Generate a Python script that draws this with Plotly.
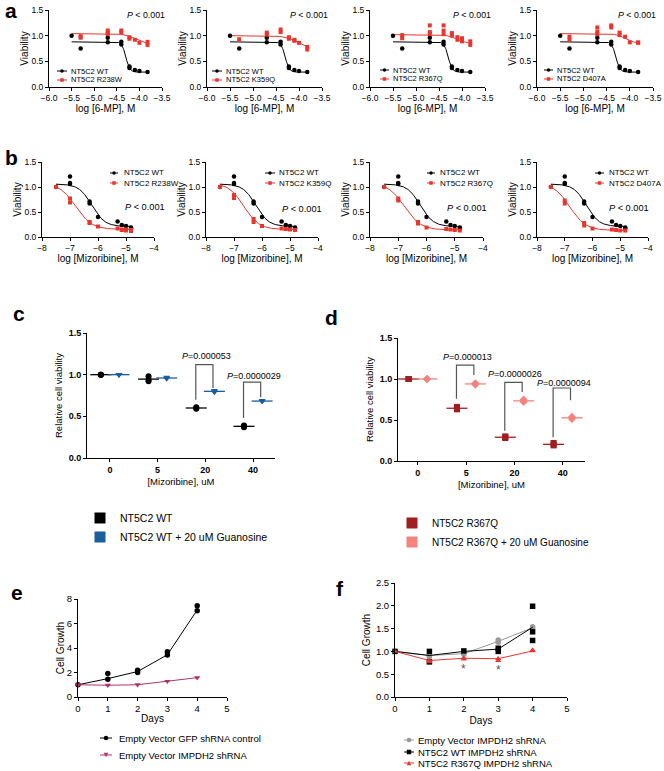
import numpy as np
import plotly.graph_objects as go

W, H = 664, 771
FONT = "Liberation Sans, Arial, Helvetica, sans-serif"

# ---------------- data ----------------
# panel a: viability vs log[6-MP]
a_logconc = [-5.5, -5.3, -4.7, -4.4, -4.22, -4.1, -4.0, -3.82]
a_wt = [[1.00], [0.75], [0.96, 0.87], [0.88, 0.83], [0.40, 0.37], [0.33], [0.31], [0.29]]
a_r238w = [[], [0.99, 0.96], [1.10, 1.06, 1.03], [1.10, 1.06], [0.97, 0.94], [0.92], [0.86], [0.88, 0.82]]
a_k359q = [[], [0.93], [1.06, 1.02], [1.12, 1.07], [0.97, 0.94], [0.92, 0.90], [0.86], [0.78, 0.73]]
a_r367q = [[], [1.01, 0.95], [1.20, 1.07, 1.03], [1.20, 1.10, 1.03], [1.05, 1.00], [0.97, 0.92], [0.95, 0.89], [0.89, 0.82]]
a_d407a = [[], [0.98, 0.92], [1.16, 1.08, 1.03], [1.20, 1.16], [1.06, 1.01], [0.98], [0.87], [0.87, 0.86]]
# fitted 4-parameter curves: top, bottom, logEC50, hill slope
a_fit_wt = [0.88, 0.29, -4.30, 10.0]
a_fit_r238w = [1.04, 0.85, -4.12, 4.0]
a_fit_k359q = [1.00, 0.72, -4.00, 3.0]
a_fit_r367q = [1.02, 0.84, -4.10, 4.0]
a_fit_d407a = [1.04, 0.86, -4.12, 5.0]
a_names = ["NT5C2 R238W", "NT5C2 K359Q", "NT5C2 R367Q", "NT5C2 D407A"]

# panel b: viability vs log[Mizoribine]
b_logconc = [-7.5, -7.0, -6.3, -6.0, -5.3, -5.15, -5.0, -4.82]
b_wt = [[1.00], [1.21, 1.08, 1.06], [0.71, 0.67], [0.40], [0.31], [0.24], [0.22], [0.19, 0.17]]
b_r238w = [[1.00], [0.77, 0.69], [0.30, 0.28], [0.21], [0.17], [0.15, 0.14], [0.15, 0.13], [0.14, 0.12]]
b_k359q = [[1.00], [0.84, 0.78], [0.36, 0.30], [0.22], [0.17], [0.16], [0.15], [0.14]]
b_r367q = [[1.00], [0.77, 0.73], [0.30, 0.27], [0.19], [0.16], [0.15], [0.14], [0.13]]
b_d407a = [[1.00], [0.73, 0.67], [0.28, 0.23], [0.17], [0.15], [0.14], [0.13], [0.13]]
b_fit_wt = [1.06, 0.21, -6.22, 1.9]
b_fit_r238w = [1.08, 0.15, -6.80, 1.5]
b_fit_k359q = [1.08, 0.15, -6.65, 1.6]
b_fit_r367q = [1.08, 0.14, -6.78, 1.5]
b_fit_d407a = [1.08, 0.13, -6.82, 1.5]
b_names = ["NT5C2 R238W", "NT5C2 K359Q", "NT5C2 R367Q", "NT5C2 D407A"]

p_text = "<i>P</i> &lt; 0.001"

# panel c / d: relative viability by mizoribine dose
cd_dose_labels = ["0", "5", "20", "40"]
c_wt = [[1.00, 1.00, 1.00], [0.98, 0.94, 0.92], [0.61, 0.60, 0.59], [0.39, 0.38, 0.37]]
c_wt_guan = [[1.00, 1.00, 1.00], [0.97, 0.96, 0.95], [0.81, 0.80, 0.79], [0.69, 0.68, 0.68]]
c_names = ["NT5C2 WT", "NT5C2 WT + 20 uM Guanosine"]
c_p_labels = ["0.000053", "0.0000029"]
c_p_groups = [2, 3]
c_bracket_top = [1.12, 0.91]
c_bracket_left_end = [0.70, 0.48]
c_bracket_right_end = [0.84, 0.73]
c_label_y = [1.22, 0.99]

d_r367q = [[1.00, 1.00, 1.00], [0.66, 0.64, 0.63], [0.30, 0.29, 0.28], [0.22, 0.20, 0.19]]
d_r367q_guan = [[1.00, 1.00, 1.00], [0.95, 0.94, 0.93], [0.75, 0.73, 0.72], [0.54, 0.53, 0.51]]
d_names = ["NT5C2 R367Q", "NT5C2 R367Q + 20 uM Guanosine"]
d_p_labels = ["0.000013", "0.0000026", "0.0000094"]
d_p_groups = [1, 2, 3]
d_bracket_top = [1.17, 0.96, 0.89]
d_bracket_left_end = [0.76, 0.37, 0.29]
d_bracket_right_end = [1.05, 0.84, 0.74]
d_label_y = [1.27, 1.06, 0.95]

# panel e: cell growth
e_days = [0, 1, 2, 3, 4]
e_gfp = [[1.0], [1.91, 1.45], [2.19, 2.00], [3.69, 3.42], [7.45, 7.05]]
e_gfp_line = [1.0, 1.50, 2.08, 3.45, 7.10]
e_impdh2 = [[1.0], [0.96], [1.00], [1.28], [1.58]]
e_impdh2_line = [1.0, 0.96, 1.00, 1.28, 1.58]
e_names = ["Empty Vector GFP shRNA control", "Empty Vector IMPDH2 shRNA"]

# panel f: cell growth
f_days = [0, 1, 2, 3, 4]
f_ev = [[1.0], [0.91, 0.88], [0.97, 0.94], [1.25, 1.20], [1.54, 1.50]]
f_ev_line = [1.0, 0.91, 0.95, 1.22, 1.52]
f_wt = [[1.0], [1.00, 0.77], [1.01], [1.07, 1.00], [1.99, 1.43, 1.24]]
f_wt_line = [1.0, 0.91, 1.00, 1.05, 1.53]
f_r367q = [[1.0], [0.80, 0.77], [0.85, 0.83], [0.84, 0.80], [1.01, 1.03]]
f_r367q_line = [1.0, 0.80, 0.85, 0.84, 1.01]
f_names = ["Empty Vector IMPDH2 shRNA", "NT5C2 WT IMPDH2 shRNA", "NT5C2 R367Q IMPDH2 shRNA"]
f_star_days = [2, 3]
f_star_y = [0.61, 0.59]

# ---------------- styles ----------------
BLACK = "#000000"
RED = "#E8362F"
BLUE = "#1B5E9E"
DARKRED = "#A11D21"
LIGHTRED = "#F3837D"
MAGENTA = "#B1316B"
GRAY = "#999999"
OFF = 0.19


def fourpl(x, p):
    top, bottom, c, h = p
    return bottom + (top - bottom) / (1.0 + 10.0 ** ((x - c) * h))


def expand(xs, reps, off=0.0):
    X, Y = [], []
    for x, r in zip(xs, reps):
        for v in r:
            X.append(x + off)
            Y.append(v)
    return X, Y


def px_x(p):
    return p / W


def px_y(p):
    return 1 - p / H


fig = go.Figure()
layout = dict(template="none", width=W, height=H, margin=dict(l=0, r=0, t=0, b=0, pad=0),
              paper_bgcolor="white", plot_bgcolor="white", showlegend=True,
              font=dict(family=FONT, color="black"))
shapes, annotations = [], []

base = dict(showline=True, linecolor="black", linewidth=1, ticks="outside", ticklen=3,
            tickwidth=1, tickcolor="black", showgrid=False, zeroline=False, fixedrange=True,
            automargin=False)


def sfx(i):
    return "" if i == 1 else str(i)


def make_axes(i, xdom, ydom, xcfg, ycfg):
    s = sfx(i)
    layout["xaxis" + s] = {**base, "domain": [px_x(xdom[0]), px_x(xdom[1])], "anchor": "y" + s, **xcfg}
    layout["yaxis" + s] = {**base, "domain": [px_y(ydom[1]), px_y(ydom[0])], "anchor": "x" + s, **ycfg}


def legend_entry(x0, x1, tx, y, color, symbol, msize, text, fsize, lw=1.0):
    shapes.append(dict(type="line", xref="paper", yref="paper", x0=px_x(x0), x1=px_x(x1),
                       y0=px_y(y), y1=px_y(y), line=dict(color=color, width=lw)))
    cx = (x0 + x1) / 2.0
    r = msize / 2.0
    if symbol == "circle":
        shapes.append(dict(type="circle", xref="paper", yref="paper", x0=px_x(cx - r), x1=px_x(cx + r),
                           y0=px_y(y + r), y1=px_y(y - r), fillcolor=color, line=dict(width=0)))
    elif symbol == "square":
        shapes.append(dict(type="rect", xref="paper", yref="paper", x0=px_x(cx - r), x1=px_x(cx + r),
                           y0=px_y(y + r), y1=px_y(y - r), fillcolor=color, line=dict(width=0)))
    elif symbol == "triangle-down":
        path = "M{},{} L{},{} L{},{} Z".format(px_x(cx - r), px_y(y - r), px_x(cx + r), px_y(y - r),
                                              px_x(cx), px_y(y + r))
        shapes.append(dict(type="path", xref="paper", yref="paper", path=path, fillcolor=color, line=dict(width=0)))
    elif symbol == "triangle-up":
        path = "M{},{} L{},{} L{},{} Z".format(px_x(cx - r), px_y(y + r), px_x(cx + r), px_y(y + r),
                                              px_x(cx), px_y(y - r))
        shapes.append(dict(type="path", xref="paper", yref="paper", path=path, fillcolor=color, line=dict(width=0)))
    annotations.append(dict(x=px_x(tx), y=px_y(y), xref="paper", yref="paper", text=text, showarrow=False,
                            xanchor="left", yanchor="middle", font=dict(size=fsize, color="black", family=FONT)))


def paper_text(x, y, text, size, xanchor="center", bold=False):
    annotations.append(dict(x=px_x(x), y=px_y(y), xref="paper", yref="paper",
                            text=("<b>%s</b>" % text) if bold else text, showarrow=False,
                            xanchor=xanchor, yanchor="middle", font=dict(size=size, color="black", family=FONT)))


# ---------------- panel a ----------------
a_xdoms = [(49, 162), (207, 322), (370, 485), (537, 653)]
a_sets = [a_r238w, a_k359q, a_r367q, a_d407a]
a_fits = [a_fit_r238w, a_fit_k359q, a_fit_r367q, a_fit_d407a]
a_leg = [(57, 67, 69, 71), (212, 222, 224, 71), (380, 389, 391, 70), (544, 553, 555, 70)]
a_p_right = [167, 330, 493, 658]
a_curve_x = np.linspace(min(a_logconc), max(a_logconc), 300)
tick_small = dict(size=8.5, family=FONT, color="black")
title10 = dict(size=10, family=FONT, color="black")
for k in range(4):
    i = k + 1
    s = sfx(i)
    make_axes(i, a_xdoms[k], (10, 87),
              dict(range=[-6, -3.5], dtick=0.5, tick0=-6, tickformat=".1f", tickfont=tick_small,
                   title=dict(text="log [6-MP], M", font=title10, standoff=0)),
              dict(range=[0, 1.5], dtick=0.5, tick0=0, tickformat=".1f", tickfont=tick_small,
                   title=dict(text="Viability", font=title10, standoff=0)))
    fig.add_trace(go.Scatter(x=a_curve_x, y=fourpl(a_curve_x, a_fit_wt), mode="lines",
                             line=dict(color=BLACK, width=1), xaxis="x" + s, yaxis="y" + s, showlegend=False,
                             name="NT5C2 WT fit"))
    fig.add_trace(go.Scatter(x=a_curve_x, y=fourpl(a_curve_x, a_fits[k]), mode="lines",
                             line=dict(color=RED, width=1), xaxis="x" + s, yaxis="y" + s, showlegend=False,
                             name=a_names[k] + " fit"))
    X, Y = expand(a_logconc, a_wt)
    fig.add_trace(go.Scatter(x=X, y=Y, mode="markers", marker=dict(color=BLACK, size=4.5, symbol="circle"),
                             xaxis="x" + s, yaxis="y" + s, showlegend=False, name="NT5C2 WT", cliponaxis=False))
    X, Y = expand(a_logconc, a_sets[k])
    fig.add_trace(go.Scatter(x=X, y=Y, mode="markers", marker=dict(color=RED, size=4, symbol="square"),
                             xaxis="x" + s, yaxis="y" + s, showlegend=False, name=a_names[k], cliponaxis=False))
    lx0, lx1, tx, ly = a_leg[k]
    legend_entry(lx0, lx1, tx, ly, BLACK, "circle", 3.5, "NT5C2 WT", 7.5)
    legend_entry(lx0, lx1, tx, ly + 9, RED, "square", 3.5, a_names[k], 7.5)
    paper_text(a_p_right[k], 15, p_text, 8.8, xanchor="right")

# ---------------- panel b ----------------
b_xdoms = [(42, 154), (206, 318), (370, 483), (537, 648)]
b_sets = [b_r238w, b_k359q, b_r367q, b_d407a]
b_fits = [b_fit_r238w, b_fit_k359q, b_fit_r367q, b_fit_d407a]
b_leg = [(110, 118, 122, 173), (265, 275, 277, 173), (427, 435, 438, 173), (595, 604, 607, 173)]
b_p_left = [123, 280, 445, 607]
b_p_y = [207, 209, 208, 208]
b_curve_x = np.linspace(min(b_logconc), max(b_logconc), 300)
for k in range(4):
    i = k + 5
    s = sfx(i)
    make_axes(i, b_xdoms[k], (162, 237),
              dict(range=[-8, -4], dtick=1, tick0=-8, tickfont=tick_small,
                   title=dict(text="log [Mizoribine], M", font=title10, standoff=1)),
              dict(range=[0, 1.5], dtick=0.5, tick0=0, tickformat=".1f", tickfont=tick_small,
                   title=dict(text="Viability", font=title10, standoff=0)))
    fig.add_trace(go.Scatter(x=b_curve_x, y=fourpl(b_curve_x, b_fit_wt), mode="lines",
                             line=dict(color=BLACK, width=1), xaxis="x" + s, yaxis="y" + s, showlegend=False,
                             name="NT5C2 WT fit"))
    fig.add_trace(go.Scatter(x=b_curve_x, y=fourpl(b_curve_x, b_fits[k]), mode="lines",
                             line=dict(color=RED, width=1), xaxis="x" + s, yaxis="y" + s, showlegend=False,
                             name=b_names[k] + " fit"))
    X, Y = expand(b_logconc, b_wt)
    fig.add_trace(go.Scatter(x=X, y=Y, mode="markers", marker=dict(color=BLACK, size=4.5, symbol="circle"),
                             xaxis="x" + s, yaxis="y" + s, showlegend=False, name="NT5C2 WT", cliponaxis=False))
    X, Y = expand(b_logconc, b_sets[k])
    fig.add_trace(go.Scatter(x=X, y=Y, mode="markers", marker=dict(color=RED, size=4, symbol="square"),
                             xaxis="x" + s, yaxis="y" + s, showlegend=False, name=b_names[k], cliponaxis=False))
    lx0, lx1, tx, ly = b_leg[k]
    legend_entry(lx0, lx1, tx, ly, BLACK, "circle", 3.5, "NT5C2 WT", 8)
    legend_entry(lx0, lx1, tx, ly + 10, RED, "square", 3.5, b_names[k], 8)
    paper_text(b_p_left[k], b_p_y[k], p_text, 9.2, xanchor="left")

# ---------------- panels c & d ----------------
bold_tick = dict(size=9, family=FONT, color="black", weight="bold")
title95 = dict(size=9.5, family=FONT, color="black")


def dose_panel(i, xdom, ydom, xrange, g1, g2, c1, c2, sym1, sym2, names, legname,
               p_labels, p_groups, btop, bleft, bright, label_y):
    s = sfx(i)
    make_axes(i, xdom, ydom,
              dict(range=xrange, tickvals=list(range(len(cd_dose_labels))), ticktext=cd_dose_labels,
                   tickfont=bold_tick, title=dict(text="[Mizoribine], uM", font=title95, standoff=4)),
              dict(range=[0, 1.5], dtick=0.5, tick0=0, tickformat=".1f", tickfont=bold_tick,
                   title=dict(text="Relative cell viability", font=title95, standoff=4)))
    idx = list(range(len(cd_dose_labels)))
    for grp, col, sym, off, nm in [(g1, c1, sym1, -OFF, names[0]), (g2, c2, sym2, OFF, names[1])]:
        X, Y = expand(idx, grp, off)
        fig.add_trace(go.Scatter(x=X, y=Y, mode="markers", marker=dict(color=col, size=6, symbol=sym),
                                 xaxis="x" + s, yaxis="y" + s, showlegend=False, name=nm, cliponaxis=False))
        fig.add_trace(go.Scatter(x=[j + off for j in idx], y=[float(np.mean(r)) for r in grp], mode="markers",
                                 marker=dict(symbol="line-ew", size=15, line=dict(width=1.3, color=col)),
                                 xaxis="x" + s, yaxis="y" + s, showlegend=False, name=nm + " mean",
                                 cliponaxis=False))
        fig.add_trace(go.Scatter(x=[None], y=[None], mode="markers", name=nm, legend=legname,
                                 marker=dict(color=col, size=11, symbol="square"),
                                 xaxis="x" + s, yaxis="y" + s, showlegend=True))
    for lab, g, t, lb, rb, ly in zip(p_labels, p_groups, btop, bleft, bright, label_y):
        xl, xr = g - 0.2, g + 0.16
        shapes.append(dict(type="path", xref="x" + s, yref="y" + s,
                           path="M{},{} L{},{} L{},{} L{},{}".format(xl, lb, xl, t, xr, t, xr, rb),
                           line=dict(color="#555555", width=1.2)))
        annotations.append(dict(x=g + 0.02, y=ly, xref="x" + s, yref="y" + s, text="<i>P</i>=" + lab,
                                showarrow=False, xanchor="center", yanchor="middle",
                                font=dict(size=9, family=FONT, color="black")))


dose_panel(9, (87, 275), (333, 458), [-0.48, 3.46], c_wt, c_wt_guan, BLACK, BLUE, "circle", "triangle-down",
           c_names, "legend", c_p_labels, c_p_groups, c_bracket_top, c_bracket_left_end,
           c_bracket_right_end, c_label_y)
dose_panel(10, (398, 585), (338, 461), [-0.41, 3.46], d_r367q, d_r367q_guan, DARKRED, LIGHTRED, "square",
           "diamond", d_names, "legend2", d_p_labels, d_p_groups, d_bracket_top, d_bracket_left_end,
           d_bracket_right_end, d_label_y)

layout["legend"] = dict(x=px_x(80), y=px_y(503.5), xanchor="left", yanchor="top", bgcolor="rgba(0,0,0,0)",
                        font=dict(size=10.5, family=FONT, color="black"), tracegroupgap=0)
layout["legend2"] = dict(x=px_x(392), y=px_y(508.5), xanchor="left", yanchor="top", bgcolor="rgba(0,0,0,0)",
                         font=dict(size=10, family=FONT, color="black"), tracegroupgap=0)

# ---------------- panel e ----------------
tick9 = dict(size=9.5, family=FONT, color="black")
make_axes(11, (78, 227), (599, 697),
          dict(range=[0, 5], dtick=1, tick0=0, tickfont=tick9, title=dict(text="Days", font=title10, standoff=1)),
          dict(range=[0, 8], dtick=2, tick0=0, tickfont=tick9, title=dict(text="Cell Growth", font=title10, standoff=0)))
fig.add_trace(go.Scatter(x=e_days, y=e_gfp_line, mode="lines", line=dict(color=BLACK, width=1),
                         xaxis="x11", yaxis="y11", showlegend=False, name=e_names[0]))
X, Y = expand(e_days, e_gfp)
fig.add_trace(go.Scatter(x=X, y=Y, mode="markers", marker=dict(color=BLACK, size=5.5, symbol="circle"),
                         xaxis="x11", yaxis="y11", showlegend=False, name=e_names[0], cliponaxis=False))
fig.add_trace(go.Scatter(x=e_days, y=e_impdh2_line, mode="lines", line=dict(color=MAGENTA, width=1),
                         xaxis="x11", yaxis="y11", showlegend=False, name=e_names[1]))
X, Y = expand(e_days, e_impdh2)
fig.add_trace(go.Scatter(x=X, y=Y, mode="markers", marker=dict(color=MAGENTA, size=5.5, symbol="triangle-down"),
                         xaxis="x11", yaxis="y11", showlegend=False, name=e_names[1], cliponaxis=False))
legend_entry(100, 112, 117, 738, BLACK, "circle", 4.5, e_names[0], 9.5)
legend_entry(100, 112, 117, 755, MAGENTA, "triangle-down", 4.5, e_names[1], 9.5)

# ---------------- panel f ----------------
make_axes(12, (395, 567), (583, 697),
          dict(range=[0, 5], dtick=1, tick0=0, tickfont=tick9, title=dict(text="Days", font=title10, standoff=3)),
          dict(range=[0, 2.5], dtick=0.5, tick0=0, tickformat=".1f", tickfont=tick9,
               title=dict(text="Cell Growth", font=title10, standoff=3)))
for reps, line_vals, col, sym, nm in [(f_ev, f_ev_line, GRAY, "circle", f_names[0]),
                                      (f_wt, f_wt_line, BLACK, "square", f_names[1]),
                                      (f_r367q, f_r367q_line, RED, "triangle-up", f_names[2])]:
    fig.add_trace(go.Scatter(x=f_days, y=line_vals, mode="lines", line=dict(color=col, width=1),
                             xaxis="x12", yaxis="y12", showlegend=False, name=nm))
    X, Y = expand(f_days, reps)
    fig.add_trace(go.Scatter(x=X, y=Y, mode="markers", marker=dict(color=col, size=5.5, symbol=sym),
                             xaxis="x12", yaxis="y12", showlegend=False, name=nm, cliponaxis=False))
for d, yv in zip(f_star_days, f_star_y):
    annotations.append(dict(x=d, y=yv, xref="x12", yref="y12", text="*", showarrow=False,
                            xanchor="center", yanchor="middle", font=dict(size=12, family=FONT, color="#555555")))
legend_entry(404, 414, 416, 740, GRAY, "circle", 4.5, f_names[0], 9.5)
legend_entry(404, 414, 416, 752, BLACK, "square", 4.5, f_names[1], 9.5)
legend_entry(404, 414, 416, 763, RED, "triangle-up", 4.5, f_names[2], 9.5)

# ---------------- panel letters ----------------
for letter, lx, ly in [("a", 3, 11), ("b", 3, 158), ("c", 11, 313), ("d", 323, 317), ("e", 9, 592), ("f", 334, 588)]:
    paper_text(lx, ly, letter, 21, xanchor="left", bold=True)

layout["shapes"] = shapes
layout["annotations"] = annotations
fig.update_layout(**layout)
fig.write_html("out.html", config={"displayModeBar": False},
               post_script="document.body.style.margin='0';document.body.style.overflow='hidden';")
